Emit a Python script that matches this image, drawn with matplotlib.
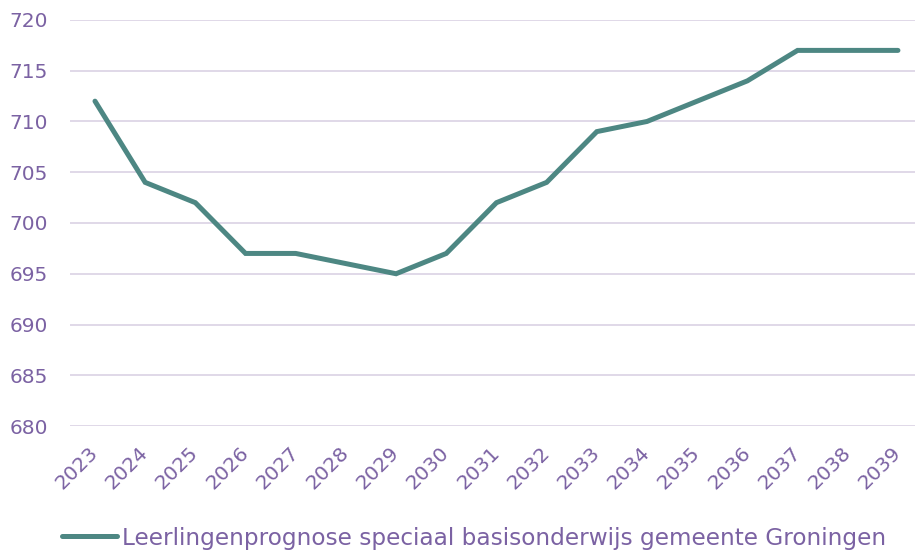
import numpy as np
import matplotlib.pyplot as plt
from matplotlib.lines import Line2D

years = [str(y) for y in range(2023, 2040)]
pupils = [712, 704, 702, 697, 697, 696, 695, 697, 702, 704,
          709, 710, 712, 714, 717, 717, 717]
y_ticks = list(range(680, 721, 5))
series_name = 'Leerlingenprognose speciaal basisonderwijs gemeente Groningen'

text_color = '#7B62A3'
line_color = '#4D8783'
grid_color = '#DDD5E6'

plt.rcParams['font.family'] = ['DejaVu Sans']

fig = plt.figure(figsize=(9.15, 5.54), dpi=100)
ax = fig.add_axes([0.0765, 0.231, 0.9235, 0.733])

x = np.arange(len(years))
ax.plot(x, pupils, color=line_color, linewidth=3.6, solid_capstyle='round',
        solid_joinstyle='miter', label=series_name)

ax.set_ylim(680, 720)
ax.set_yticks(y_ticks)
ax.set_xlim(-0.498, 16.34)
ax.set_xticks(x)
ax.set_xticklabels(years, rotation=45, ha='right', va='center',
                   rotation_mode='anchor')

ax.grid(axis='y', color=grid_color, linewidth=1.3)
ax.set_axisbelow(True)
for s in ax.spines.values():
    s.set_visible(False)
ax.tick_params(axis='both', length=0, colors=text_color)
ax.tick_params(axis='y', pad=16, labelsize=14.5)
ax.tick_params(axis='x', pad=17, labelsize=14.5)

handle = Line2D([], [], color=line_color, linewidth=3.6, solid_capstyle='round')
fig.legend([handle], [series_name], loc='center left',
           bbox_to_anchor=(62 / 915, 1 - 538 / 554),
           frameon=False, fontsize=16.7, labelcolor=text_color,
           borderpad=0, borderaxespad=0,
           handlelength=2.37, handletextpad=0.22)

fig.savefig('out.png', dpi=100)
